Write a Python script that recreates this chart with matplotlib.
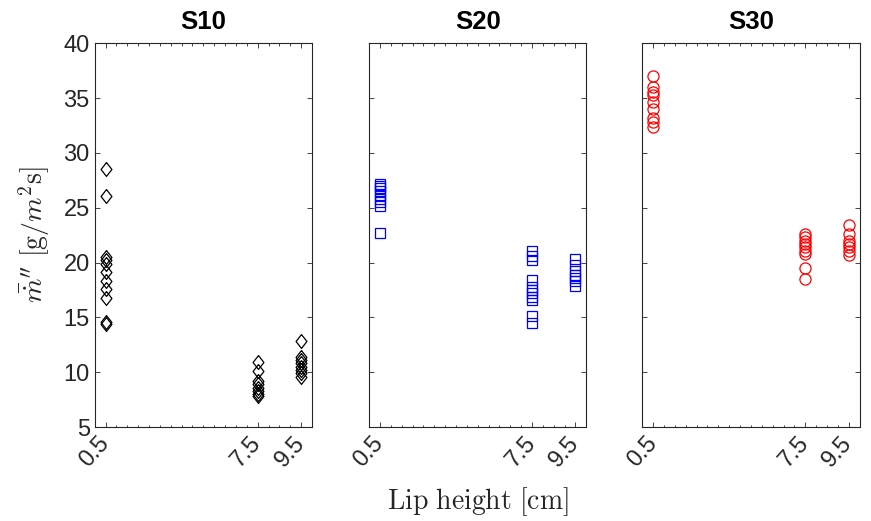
import numpy as np
import matplotlib
matplotlib.use('Agg')
import matplotlib.pyplot as plt
import matplotlib.transforms as mtransforms
from matplotlib.ticker import MultipleLocator

# lip heights [cm]
lip = [0.5, 7.5, 9.5]

# mass loss rate readings per lip height, one list per case
s10 = {0.5: [28.5, 26.1, 20.5, 20.2, 19.9, 19.1, 18.3, 17.6, 16.8, 14.6, 14.4],
       7.5: [10.9, 10.1, 9.2, 8.9, 8.6, 8.3, 8.0, 7.8],
       9.5: [12.8, 11.4, 11.1, 10.8, 10.5, 10.2, 9.9, 9.6]}
s20 = {0.5: [27.2, 27.0, 26.8, 26.5, 26.2, 25.8, 25.5, 25.2, 22.7],
       7.5: [21.1, 20.6, 20.2, 18.4, 17.8, 17.5, 17.2, 16.9, 16.6, 15.1, 14.5],
       9.5: [20.3, 19.8, 19.2, 18.9, 18.6, 18.3, 17.9]}
s30 = {0.5: [37.0, 36.0, 35.6, 35.3, 34.6, 34.0, 33.2, 32.8, 32.4],
       7.5: [22.6, 22.3, 22.0, 21.7, 21.4, 21.1, 20.8, 19.5, 18.5],
       9.5: [23.4, 22.6, 22.0, 21.7, 21.4, 21.1, 20.7]}

titles = ['S10', 'S20', 'S30']
cases = [s10, s20, s30]

plt.rcParams['font.family'] = ['Liberation Sans', 'DejaVu Sans']
plt.rcParams['mathtext.fontset'] = 'cm'

axcol = '#262626'
diamond = [(0, 1), (0.78, 0), (0, -1), (-0.78, 0), (0, 1)]
styles = [dict(marker=diamond, ms=10, mec='k'),
          dict(marker='s', ms=6.8, mec='b'),
          dict(marker='o', ms=8, mec='r')]

fig = plt.figure(figsize=(8.71, 5.21), dpi=100)
lefts = [0.1087, 0.4237, 0.7374]
shift = mtransforms.ScaledTranslation(3 / 72, -2 / 72, fig.dpi_scale_trans)
axes = []
for i in range(3):
    ax = fig.add_axes([lefts[i], 0.1804, 0.2495, 0.7365])
    axes.append(ax)
    for h in lip:
        vals = cases[i][h]
        ax.plot([h] * len(vals), vals, ls='none', mfc='none', mew=0.9, **styles[i])
    ax.set_xlim(0, 10)
    ax.set_ylim(5, 40)
    ax.set_xticks(lip)
    ax.set_xticklabels(['0.5', '7.5', '9.5'], rotation=48, ha='right',
                       va='center', rotation_mode='anchor')
    for lab in ax.get_xticklabels():
        lab.set_transform(lab.get_transform() + shift)
    ax.xaxis.set_minor_locator(MultipleLocator(0.5))
    ax.set_yticks(np.arange(5, 41, 5))
    if i > 0:
        ax.set_yticklabels([])
    ax.tick_params(which='both', direction='in', top=True, right=True,
                   color=axcol, labelcolor=axcol, labelsize=17, width=0.6)
    ax.tick_params(which='major', length=3.5)
    ax.tick_params(axis='x', which='major', pad=9)
    ax.tick_params(which='minor', length=1.8)
    for sp in ax.spines.values():
        sp.set_color(axcol)
        sp.set_linewidth(0.8)
    ax.set_title(titles[i], fontsize=18.5, fontweight='bold', color='k', pad=10)

axes[0].set_ylabel(r'$\bar{\dot{m}}^{\prime\prime}\ [\mathrm{g}/m^2\mathrm{s}]$',
                   fontsize=20, color=axcol, labelpad=8)
axes[1].set_xlabel(r'$\mathrm{Lip\ height\ [cm]}$', fontsize=20, color=axcol,
                   labelpad=10)

fig.savefig('out.png', dpi=100, facecolor='white')
